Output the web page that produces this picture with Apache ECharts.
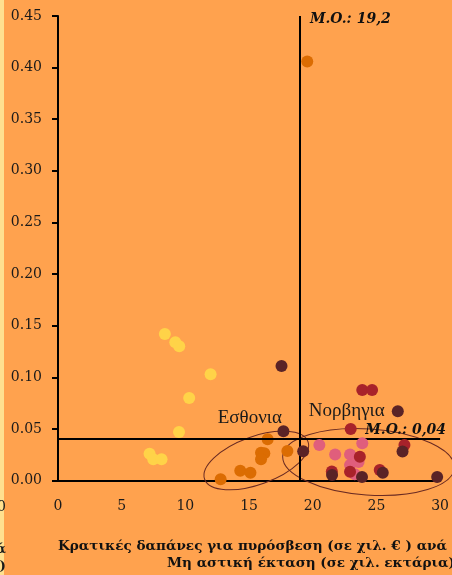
<!DOCTYPE html>
<html>
<head>
<meta charset="utf-8">
<script src="https://cdn.jsdelivr.net/npm/echarts@6/dist/echarts.min.js"></script>
<style>
html,body{margin:0;padding:0;background:#FFA24E;overflow:hidden;}
#c{width:452px;height:575px;}
</style>
</head>
<body>
<div id="c"></div>
<script>
// ---- data ----
const xTicks = [0, 5, 10, 15, 20, 25, 30];
const yTicks = [0, 0.05, 0.10, 0.15, 0.20, 0.25, 0.30, 0.35, 0.40, 0.45];
const yellowPts = [[8.39,0.142],[9.21,0.134],[9.52,0.130],[11.98,0.103],[10.30,0.080],[9.50,0.047],[7.19,0.026],[7.48,0.0205],[8.13,0.0205]];
const orangePts = [[19.57,0.406],[12.77,0.0013],[16.46,0.040],[15.94,0.027],[16.2,0.0263],[15.94,0.0205],[18.01,0.0286],[14.31,0.0095],[15.11,0.0076]];
const pinkPts = [[20.52,0.0344],[21.76,0.0252],[22.93,0.0252],[23.89,0.0362],[23.6,0.018],[22.93,0.015],[23.3,0.006]];
const redPts = [[23.89,0.0876],[24.66,0.0876],[22.98,0.050],[23.70,0.023],[21.5,0.0088],[22.93,0.0085],[25.26,0.0102],[27.2,0.0345]];
const darkPts = [[17.55,0.111],[17.7,0.0478],[19.25,0.0283],[26.68,0.067],[21.52,0.0053],[23.87,0.0035],[25.5,0.0074],[27.05,0.0281],[29.77,0.0033]];
const meanX = 19.0;       // drawn position of the x mean line
const meanY = 0.039;      // drawn position of the y mean line
const meanXLabel = 'M.O.: 19,2';
const meanYLabel = 'M.O.: 0,04';
const groupNames = ['Εσθονια', 'Νορβηγια'];
const groupLabelPos = [[15.06, 0.0605], [22.67, 0.0673]];
const ellipseCenters = [[15.57, 0.0194], [24.38, 0.0179]];
const xTitle1 = 'Κρατικές δαπάνες για πυρόσβεση (σε χιλ. € ) ανά';
const xTitle2 = 'Μη αστική έκταση (σε χιλ. εκτάρια)';

// ---- chart ----
const chart = echarts.init(document.getElementById('c'), null, {renderer: 'canvas', width: 452, height: 575});
const serif = 'DejaVu Serif';
function sc(data, color, z) {
  return {type: 'scatter', data: data, symbolSize: 12, z: z,
    itemStyle: {color: color, opacity: 1}, silent: true};
}
const series = [
  sc(yellowPts, '#FFD348', 3),
  sc(orangePts, '#DB6C02', 4),
  sc(pinkPts, '#E05E7C', 5),
  sc(redPts, '#A8222A', 6),
  Object.assign(sc(darkPts, '#5A2326', 7), {
    markLine: {silent: true, symbol: 'none', animation: false,
      lineStyle: {color: '#000', width: 2, type: 'solid'},
      label: {show: false},
      data: [{xAxis: meanX}, {yAxis: meanY}]}
  })
];
chart.setOption({
  backgroundColor: '#FFA24E',
  animation: false,
  grid: {left: 58, width: 386.5, top: 16, height: 464.5, containLabel: false},
  xAxis: {type: 'value', min: xTicks[0], max: xTicks[xTicks.length-1], interval: 5,
    splitLine: {show: false},
    axisLine: {show: true, onZero: false, lineStyle: {color: '#000', width: 2}},
    axisTick: {show: false},
    axisLabel: {margin: 19, fontFamily: serif, fontSize: 14, color: '#1a1a1a'}},
  yAxis: {type: 'value', min: yTicks[0], max: yTicks[yTicks.length-1], interval: 0.05,
    splitLine: {show: false},
    axisLine: {show: true, onZero: false, lineStyle: {color: '#000', width: 2}},
    axisTick: {show: true, length: 6, lineStyle: {color: '#000', width: 2}},
    axisLabel: {margin: 16, fontFamily: serif, fontSize: 14, color: '#1a1a1a',
      formatter: v => v.toFixed(2)}},
  series: series
});

const px = p => chart.convertToPixel({gridIndex: 0}, p);
const g = [];
g.push({type: 'rect', shape: {x: 0, y: 0, width: 4, height: 575}, style: {fill: '#FFE08F'}, z: 0});
// cropped fragments of neighbouring content
g.push({type: 'text', x: 6, y: 507, style: {text: '0', font: '14px "DejaVu Serif"', fill: '#1a1a1a', align: 'right', verticalAlign: 'middle'}});
g.push({type: 'text', x: 6, y: 549, style: {text: 'ά', font: 'bold 13.6px "DejaVu Serif"', fill: '#1a1a1a', align: 'right', verticalAlign: 'middle'}});
g.push({type: 'text', x: 6, y: 566, style: {text: ')', font: 'bold 13.6px "DejaVu Serif"', fill: '#1a1a1a', align: 'right', verticalAlign: 'middle'}});
// ellipses
const ell = [{rx: 55, ry: 24, rot: 20}, {rx: 86, ry: 33, rot: -4}];
ellipseCenters.forEach((c, i) => {
  const p = px(c);
  g.push({type: 'ellipse', x: p[0], y: p[1], rotation: ell[i].rot * Math.PI / 180,
    shape: {cx: 0, cy: 0, rx: ell[i].rx, ry: ell[i].ry},
    style: {fill: 'none', stroke: '#6A2A22', lineWidth: 1}, z: 1, silent: true});
});
groupNames.forEach((n, i) => {
  const p = px(groupLabelPos[i]);
  g.push({type: 'text', x: p[0], y: p[1], z: 20,
    style: {text: n, font: '19px "Liberation Serif"', fill: '#1a1a1a', align: 'center', verticalAlign: 'middle'}});
});
// mean labels
const pmx = px([meanX, 0.45]);
g.push({type: 'text', x: pmx[0] + 10, y: pmx[1] + 3, z: 20,
  style: {text: meanXLabel, font: 'italic bold 14px "DejaVu Serif"', fill: '#111', align: 'left', verticalAlign: 'middle'}});
const pmy = px([30, meanY]);
g.push({type: 'text', x: pmy[0] + 6, y: pmy[1] - 10, z: 20,
  style: {text: meanYLabel, font: 'italic bold 14px "DejaVu Serif"', fill: '#111', align: 'right', verticalAlign: 'middle'}});
// axis title
g.push({type: 'text', x: 58, y: 546, style: {text: xTitle1, font: 'bold 13.6px "DejaVu Serif"', fill: '#111', align: 'left', verticalAlign: 'middle'}});
g.push({type: 'text', x: 167, y: 563, style: {text: xTitle2, font: 'bold 13.6px "DejaVu Serif"', fill: '#111', align: 'left', verticalAlign: 'middle'}});
chart.setOption({graphic: {elements: g}});
</script>
</body>
</html>
